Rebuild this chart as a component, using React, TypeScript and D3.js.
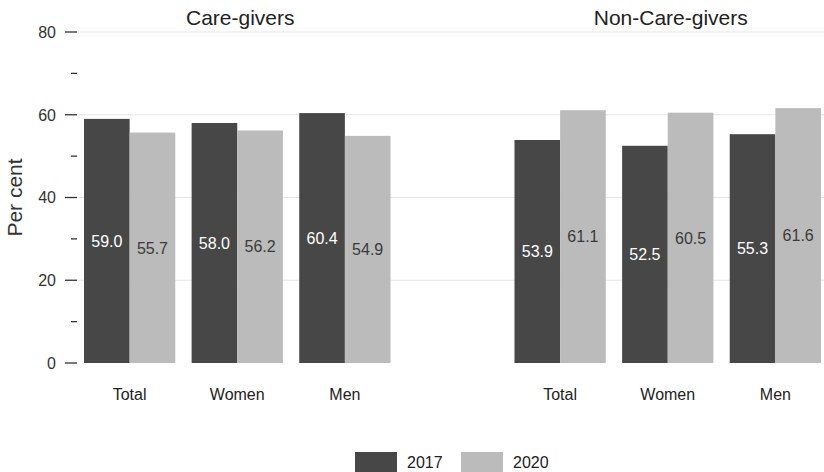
import React from "react";
import * as d3 from "d3";

const panels = ["Care-givers", "Non-Care-givers"];
const categories = ["Total", "Women", "Men"];
const years = ["2017", "2020"];
const careValues2017 = [59.0, 58.0, 60.4];
const careValues2020 = [55.7, 56.2, 54.9];
const nonCareValues2017 = [53.9, 52.5, 55.3];
const nonCareValues2020 = [61.1, 60.5, 61.6];
const majorTicks = [0, 20, 40, 60, 80];
const minorTicks = [10, 30, 50, 70];

const W = 824;
const H = 472;
const colors = ["#474747", "#bbbbbb"];
const labelColors = ["#ffffff", "#3a3a3a"];
const FONT = "'Liberation Sans', Arial, sans-serif";

export default function App() {
  const y = d3.scaleLinear().domain([0, 80]).range([363, 32]);
  const slots = ["c0", "c1", "c2", "gap", "n0", "n1", "n2"];
  const x = d3.scaleBand().domain(slots).range([84, 821]).paddingInner(0.152).paddingOuter(0);
  const sub = d3.scaleBand().domain(years).range([0, x.bandwidth()]);

  const groups = [
    { panel: panels[0], keys: ["c0", "c1", "c2"], vals: [careValues2017, careValues2020] },
    { panel: panels[1], keys: ["n0", "n1", "n2"], vals: [nonCareValues2017, nonCareValues2020] },
  ];

  return (
    <svg width={W} height={H} style={{ position: "absolute", left: 0, top: 0, background: "#fff" }} fontFamily={FONT}>
      {majorTicks.map((t) => (
        <g key={"g" + t}>
          {t > 0 && <line x1={77} x2={W} y1={y(t)} y2={y(t)} stroke="#e6e6e6" strokeWidth={1.2} />}
          <line x1={65} x2={77} y1={y(t)} y2={y(t)} stroke="#333" strokeWidth={1.3} />
          <text x={56} y={y(t)} dy="0.36em" textAnchor="end" fontSize={16} fill="#333">{t}</text>
        </g>
      ))}
      {minorTicks.map((t) => (
        <line key={"m" + t} x1={71} x2={77} y1={y(t)} y2={y(t)} stroke="#333" strokeWidth={1.3} />
      ))}
      <text transform={`translate(21.5,${(y(0) + y(80)) / 2}) rotate(-90)`} textAnchor="middle" fontSize={21} fill="#333">Per cent</text>
      {groups.map((g) => {
        const x0 = x(g.keys[0])!;
        const x1 = x(g.keys[2])! + x.bandwidth();
        return (
          <g key={g.panel}>
            <text x={(x0 + x1) / 2 + 3} y={25} textAnchor="middle" fontSize={21} fill="#222">{g.panel}</text>
            {g.keys.map((k, i) => (
              <g key={k}>
                {years.map((yr, j) => {
                  const v = g.vals[j][i];
                  const bx = x(k)! + sub(yr)!;
                  return (
                    <g key={yr}>
                      <rect x={bx} y={y(v)} width={sub.bandwidth()} height={y(0) - y(v)} fill={colors[j]} />
                      <text x={bx + sub.bandwidth() / 2} y={(y(0) + y(v)) / 2} dy="0.36em" textAnchor="middle" fontSize={16} fill={labelColors[j]}>{v.toFixed(1)}</text>
                    </g>
                  );
                })}
                <text x={x(k)! + x.bandwidth() / 2} y={400} textAnchor="middle" fontSize={16} fill="#222">{categories[i]}</text>
              </g>
            ))}
          </g>
        );
      })}
      {years.map((yr, j) => (
        <g key={"leg" + yr} transform={`translate(${355 + j * 106},452)`}>
          <rect x={0} y={0} width={42} height={20} fill={colors[j]} />
          <text x={52} y={10} dy="0.36em" fontSize={16} fill="#222">{yr}</text>
        </g>
      ))}
    </svg>
  );
}
